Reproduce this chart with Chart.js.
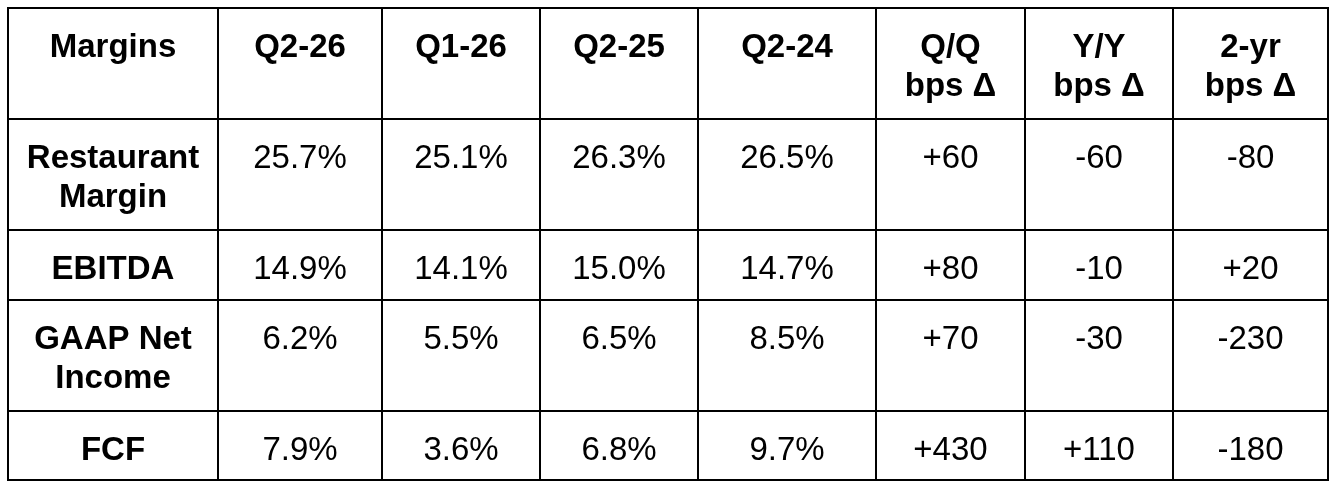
<!DOCTYPE html>
<html>
<head>
<meta charset="utf-8">
<script src="https://cdn.jsdelivr.net/npm/chart.js@4/dist/chart.umd.min.js"></script>
<style>
  html, body { margin: 0; padding: 0; background: #ffffff; }
  #wrap { width: 1340px; height: 488px; }
</style>
</head>
<body>
<div id="wrap"><canvas id="c" width="1340" height="488"></canvas></div>
<script>
// ---- data ----
const headers = ["Margins", "Q2-26", "Q1-26", "Q2-25", "Q2-24", "Q/Q\nbps Δ", "Y/Y\nbps Δ", "2-yr\nbps Δ"];
const rowLabels = ["Restaurant\nMargin", "EBITDA", "GAAP Net\nIncome", "FCF"];
const q2_26 = [25.7, 14.9, 6.2, 7.9];
const q1_26 = [25.1, 14.1, 5.5, 3.6];
const q2_25 = [26.3, 15.0, 6.5, 6.8];
const q2_24 = [26.5, 14.7, 8.5, 9.7];
const qqBps = [60, 80, 70, 430];
const yyBps = [-60, -10, -30, 110];
const twoYrBps = [-80, 20, -230, -180];

// ---- layout (scale units = pixels of the page) ----
const colEdges = [8, 218, 382, 540, 698, 876, 1025, 1173, 1328];
const rowEdges = [8, 119, 230, 300, 411, 480];

const pct = v => v.toFixed(1) + "%";
const bps = v => (v > 0 ? "+" : "") + v;

const cells = [];
headers.forEach((h, c) => cells.push({ r: 0, c, text: h, bold: true }));
rowLabels.forEach((lab, i) => {
  const r = i + 1;
  cells.push({ r, c: 0, text: lab, bold: true });
  cells.push({ r, c: 1, text: pct(q2_26[i]) });
  cells.push({ r, c: 2, text: pct(q1_26[i]) });
  cells.push({ r, c: 3, text: pct(q2_25[i]) });
  cells.push({ r, c: 4, text: pct(q2_24[i]) });
  cells.push({ r, c: 5, text: bps(qqBps[i]) });
  cells.push({ r, c: 6, text: bps(yyBps[i]) });
  cells.push({ r, c: 7, text: bps(twoYrBps[i]) });
});

const tablePlugin = {
  id: 'tablePlugin',
  afterDraw(chart) {
    const ctx = chart.ctx;
    const xs = chart.scales.x, ys = chart.scales.y;
    ctx.save();
    ctx.fillStyle = '#000000';
    // grid lines
    const y0 = ys.getPixelForValue(rowEdges[0]);
    const y1 = ys.getPixelForValue(rowEdges[rowEdges.length - 1]);
    const x0 = xs.getPixelForValue(colEdges[0]);
    const x1 = xs.getPixelForValue(colEdges[colEdges.length - 1]);
    colEdges.forEach(e => {
      const px = xs.getPixelForValue(e);
      ctx.fillRect(px - 1, y0 - 1, 2, y1 - y0 + 2);
    });
    rowEdges.forEach(e => {
      const py = ys.getPixelForValue(e);
      ctx.fillRect(x0 - 1, py - 1, x1 - x0 + 2, 2);
    });
    // text
    ctx.textAlign = 'center';
    ctx.textBaseline = 'alphabetic';
    cells.forEach(cell => {
      const cx = (xs.getPixelForValue(colEdges[cell.c]) + xs.getPixelForValue(colEdges[cell.c + 1])) / 2;
      const top = ys.getPixelForValue(rowEdges[cell.r]);
      ctx.font = (cell.bold ? 'bold ' : '') + '33px "Liberation Sans", Arial, Helvetica, sans-serif';
      cell.text.split("\n").forEach((line, k) => {
        ctx.fillText(line, cx, top + 48.5 + k * 39);
      });
    });
    ctx.restore();
  }
};

new Chart(document.getElementById('c'), {
  type: 'scatter',
  data: { datasets: [{ data: [], pointRadius: 0 }] },
  options: {
    responsive: false,
    animation: false,
    devicePixelRatio: 1,
    layout: { padding: 0 },
    plugins: { legend: { display: false }, tooltip: { enabled: false } },
    scales: {
      x: { type: 'linear', min: 0, max: 1340, display: false },
      y: { type: 'linear', min: 0, max: 488, reverse: true, display: false }
    }
  },
  plugins: [tablePlugin]
});
</script>
</body>
</html>
